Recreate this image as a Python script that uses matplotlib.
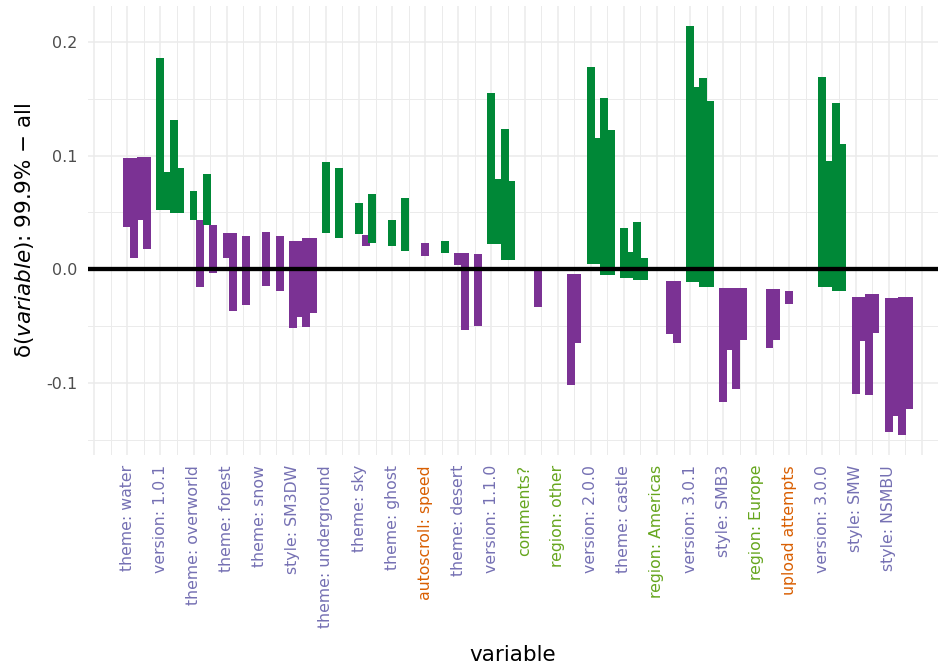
import numpy as np
import matplotlib

matplotlib.use("Agg")
import matplotlib.pyplot as plt

nan = np.nan

variables = [
    "theme: water", "version: 1.0.1", "theme: overworld", "theme: forest",
    "theme: snow", "style: SM3DW", "theme: underground", "theme: sky",
    "theme: ghost", "autoscroll: speed", "theme: desert", "version: 1.1.0",
    "comments?", "region: other", "version: 2.0.0", "theme: castle",
    "region: Americas", "version: 3.0.1", "style: SMB3", "region: Europe",
    "upload attempts", "version: 3.0.0", "style: SMW", "style: NSMBU",
]
# label colour group: a = level attribute, n = numeric, r = region/comments
label_group = [
    "a", "a", "a", "a", "a", "a", "a", "a", "a", "n", "a", "a",
    "r", "r", "a", "a", "r", "a", "a", "r", "n", "a", "a", "a",
]

# four sub-bars per variable: upper / lower end of each range
bar_hi = [
    [0.0975, 0.0975, 0.0984, 0.0984],
    [0.1854, 0.0858, 0.1312, 0.0893],
    [0.0691, 0.0434, 0.0838, 0.0386],
    [0.0319, 0.0319, nan, 0.0293],
    [nan, 0.0328, nan, 0.0290],
    [0.0252, 0.0252, 0.0275, 0.0275],
    [0.0940, nan, 0.0888, nan],
    [0.0586, 0.0302, 0.0659, nan],
    [0.0434, nan, 0.0624, nan],
    [0.0228, nan, nan, 0.0246],
    [0.0146, 0.0146, nan, 0.0135],
    [0.1552, 0.0791, 0.1230, 0.0776],
    [nan, nan, -0.0008, nan],
    [nan, nan, -0.0044, -0.0044],
    [0.1781, 0.1151, 0.1508, 0.1224],
    [0.0360, 0.0155, 0.0419, 0.0103],
    [nan, nan, -0.0100, -0.0100],
    [0.2138, 0.1600, 0.1678, 0.1479],
    [-0.0161, -0.0161, -0.0167, -0.0167],
    [nan, nan, -0.0173, -0.0173],
    [-0.0193, nan, nan, nan],
    [0.1693, 0.0955, 0.1459, 0.1098],
    [-0.0243, -0.0243, -0.0214, -0.0214],
    [-0.0252, -0.0252, -0.0240, -0.0240],
]
bar_lo = [
    [0.0375, 0.0097, 0.0434, 0.0176],
    [0.0521, 0.0521, 0.0498, 0.0498],
    [0.0434, -0.0158, 0.0388, -0.0035],
    [0.0097, -0.0363, nan, -0.0310],
    [nan, -0.0146, nan, -0.0193],
    [-0.0513, -0.0416, -0.0504, -0.0381],
    [0.0316, nan, 0.0272, nan],
    [0.0308, 0.0205, 0.0228, nan],
    [0.0208, nan, 0.0164, nan],
    [0.0117, nan, nan, 0.0141],
    [0.0038, -0.0533, nan, -0.0498],
    [0.0223, 0.0223, 0.0082, 0.0082],
    [nan, nan, -0.0334, nan],
    [nan, nan, -0.1016, -0.0650],
    [0.0047, 0.0047, -0.0050, -0.0050],
    [-0.0073, -0.0073, -0.0094, -0.0094],
    [nan, nan, -0.0568, -0.0644],
    [-0.0114, -0.0114, -0.0158, -0.0158],
    [-0.1163, -0.0709, -0.1054, -0.0621],
    [nan, nan, -0.0694, -0.0621],
    [-0.0305, nan, nan, nan],
    [-0.0152, -0.0152, -0.0187, -0.0187],
    [-0.1098, -0.0630, -0.1107, -0.0557],
    [-0.1426, -0.1289, -0.1456, -0.1224],
]
# u = rise (green), d = drop (purple)
bar_dir = [
    "dddd", "uuuu", "udud", "dddd", "dddd", "dddd", "uuuu", "udud",
    "uuuu", "dddu", "dddd", "uuuu", "dddd", "dddd", "uuuu", "uuuu",
    "dddd", "uuuu", "dddd", "dddd", "dddd", "uuuu", "dddd", "dddd",
]

DIR_COLOR = {"u": "#008837", "d": "#7B3294"}
LABEL_COLOR = {"a": "#7570B3", "n": "#D95F02", "r": "#66A61E"}
OFFSETS = [0.0, 0.2, 0.4, 0.6]
GRID = "#EBEBEB"

plt.rcParams["font.family"] = ["DejaVu Sans"]
plt.rcParams["mathtext.fontset"] = "dejavusans"

fig = plt.figure(figsize=(9.38, 6.69), dpi=100)
ax = fig.add_axes((88 / 938, 1 - 455 / 669, 850 / 938, 449 / 669))

for i in range(len(variables)):
    for k, off in enumerate(OFFSETS):
        hi, lo = bar_hi[i][k], bar_lo[i][k]
        if np.isnan(hi):
            continue
        ax.bar(i + off, hi - lo, bottom=lo, width=0.24,
               color=DIR_COLOR[bar_dir[i][k]], linewidth=0, zorder=2)

ax.axhline(0, color="black", lw=3.1, zorder=3)

ax.set_xlim(-1.187, 24.49)
ax.set_ylim(-0.1632, 0.2314)

major_x = np.arange(-1, 25)
ax.set_xticks(major_x)
ax.set_xticklabels([""] + variables + [""], rotation=90)
ax.set_xticks(np.arange(-0.5, 24.5, 1.0), minor=True)
ax.set_yticks([-0.1, 0.0, 0.1, 0.2])
ax.set_yticklabels(["-0.1", "0.0", "0.1", "0.2"])
ax.set_yticks([-0.15, -0.05, 0.05, 0.15], minor=True)

ax.grid(which="major", color=GRID, lw=1.1, zorder=0)
ax.grid(which="minor", color=GRID, lw=0.7, zorder=0)
ax.set_axisbelow(True)
for s in ax.spines.values():
    s.set_visible(False)
ax.tick_params(which="both", length=0)
ax.tick_params(axis="x", pad=7.2, labelsize=11.3)
ax.tick_params(axis="y", pad=7.9, labelsize=11.5, labelcolor="#4D4D4D")

for lab, grp in zip(ax.get_xticklabels()[1:-1], label_group):
    lab.set_color(LABEL_COLOR[grp])

fig.text(513 / 938, 1 - 661 / 669, "variable", ha="center", va="baseline",
         fontsize=15.5, color="black")
fig.text(25 / 938, 1 - 230 / 669, r"δ($\mathit{variable}$): 99.9% − all",
         ha="center", va="center", rotation=90, fontsize=15.5, color="black")

fig.savefig("out.png", dpi=100)
